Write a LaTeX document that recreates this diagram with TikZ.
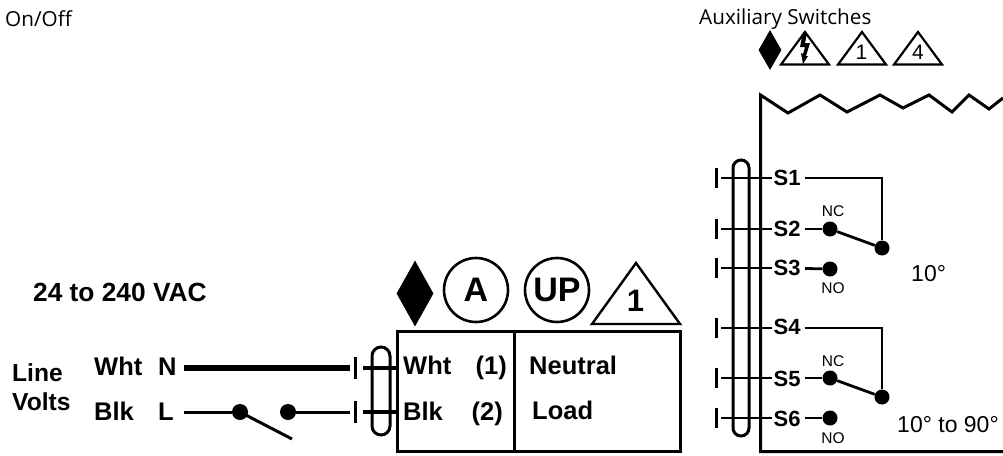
\documentclass[tikz,border=0pt]{standalone}
\usepackage{fontspec}
\setmainfont{Liberation Sans}
\newfontfamily\topfont{Open Sans}
\usetikzlibrary{positioning}
\usetikzlibrary{shapes.geometric}
\tikzset{
  wire/.style={line width=3pt},
  thinwire/.style={line width=2.8pt},
  lbl/.style={anchor=base west, inner sep=0pt, font=\bfseries\fontsize{25.5}{26}\selectfont},
  slbl/.style={anchor=base west, inner sep=0pt, font=\bfseries\fontsize{22}{22}\selectfont},
  deg/.style={anchor=base west, inner sep=0pt, font=\fontsize{23}{23}\selectfont},
  contact/.style={anchor=base, inner sep=0pt, font=\fontsize{15.5}{16}\selectfont},
  toplbl/.style={anchor=base west, inner sep=0pt, font=\topfont\fontsize{20.7}{21}\selectfont},
  dot/.style={circle, fill=black, inner sep=0pt, minimum size=15pt},
  badge/.style={circle, draw, line width=2.6pt, inner sep=0pt, minimum size=64pt, font=\bfseries\fontsize{34}{34}\selectfont},
  tri/.style={draw, line width=2.2pt, line join=miter},
  trinum/.style={inner sep=0pt, font=\fontsize{21}{21}\selectfont}
}
\begin{document}
\begin{tikzpicture}[x=1pt, y=-1pt]
        \useasboundingbox (0,0) rectangle (1003,455);

        % titles %
        \node[toplbl] (onoff) at (5,26) {On/Off};
        \node[toplbl] (aux) at (699,24) {Auxiliary Switches};

        % left labels %
        \node[lbl, font=\bfseries\fontsize{26.3}{27}\selectfont] (vac) at (33,301.5) {24 to 240 VAC};
        \node[lbl, font=\bfseries\fontsize{24.6}{25}\selectfont] (line) at (12,381.5) {Line};
        \node[lbl, font=\bfseries\fontsize{24.6}{25}\selectfont] (volts) at (12,410.5) {Volts};
        \node[lbl] (wht) at (94,375) {Wht};
        \node[lbl] (n) at (158,375) {N};
        \node[lbl] (blk) at (94,420) {Blk};
        \node[lbl] (l) at (158,420) {L};

        % actuator box %
        \draw[wire] (397.5,331.5) rectangle (680.5,451.5);
        \coordinate (boxtop) at (514,331.5);
        \coordinate (boxbot) at (514,451.5);
        \draw[wire] (boxtop) -- (boxbot);
        \node[lbl] (wht2) at (403,374) {Wht};
        \node[lbl] (one) at (475.5,374) {(1)};
        \node[lbl] (blk2) at (403,420) {Blk};
        \node[lbl] (two) at (471.5,420) {(2)};
        \node[lbl] (neutral) at (529,374) {Neutral};
        \node[lbl] (load) at (532,419) {Load};

        % symbols over the box %
        \node[diamond, fill=black, inner sep=0pt, minimum width=37pt, minimum height=66pt, aspect=0.56] (dia) at (415,293.5) {};
        \node[badge] (a) at (476,290) {A};
        \node[badge] (up) at (557,290) {UP};
        \draw[tri, line width=2.4pt] (636,263) -- (680,324) -- (592,324) -- cycle;
        \node[inner sep=0pt, font=\bfseries\fontsize{31}{31}\selectfont] (tone) at (635.5,301) {1};

        % symbols over the switches %
        \node[diamond, fill=black, inner sep=0pt, minimum width=23pt, minimum height=40pt, aspect=0.56] (dia2) at (770,50) {};
        \draw[tri] (805,32) -- (829,64.5) -- (781,64.5) -- cycle;
        \fill (803,32) -- (807,33) -- (805,43) -- (810,43) -- (806,56) -- (808,56) -- (803,64) -- (801,53) -- (803,54) -- (805,47) -- (800,47) -- cycle;
        \draw[tri] (862,32) -- (886,64.5) -- (838,64.5) -- cycle;
        \node[trinum] (none) at (861.5,52) {1};
        \draw[tri] (918,32) -- (942,64.5) -- (894,64.5) -- cycle;
        \node[trinum] (nfour) at (918,52) {4};

        % line volts wires %
        \coordinate (nend) at (350,368);
        \coordinate (nstart) at (184,368);
        \draw[line width=6pt] (nstart) -- (nend);
        \coordinate (lstart) at (184,412);
        \coordinate (lend) at (350,412);
        \node[dot, minimum size=16pt] (sw1) at (240,412) {};
        \node[dot, minimum size=16pt] (sw2) at (288,412) {};
        \coordinate (swarm) at (292,439);
        \draw[wire] (lstart) -- (sw1);
        \draw[wire] (sw1.center) -- (swarm);
        \draw[wire] (sw2) -- (lend);

        % left terminal block %
        \foreach \i/\yy in {1/368,2/412}{
          \coordinate (tka\i) at (355,\yy-11);
          \coordinate (tkb\i) at (355,\yy+11);
          \coordinate (pa\i) at (363,\yy);
          \coordinate (pb\i) at (397,\yy);
          \draw[wire] (tka\i) -- (tkb\i);
          \draw[line width=4pt] (pa\i) -- (pb\i);
        }
        \draw[wire, rounded corners=9pt] (372,347) rectangle (390,435);

        % right case %
        \draw[wire, line join=miter] (1003,98) -- (989,109) -- (969,95) -- (952,112) -- (929,95) -- (903,108) -- (880,95) -- (847,112) -- (820,95) -- (788,113) -- (760.5,95) -- (760.5,451.5) -- (1003,451.5);

        % terminals %
        \foreach \n/\yy/\base in {1/178/185,2/229/236,3/268/275,4/328/334.5,5/378/386,6/418/426}{
          \node[slbl] (s\n) at (773.5,\base) {S\n};
          \coordinate (ta\n) at (716,\yy-10);
          \coordinate (tb\n) at (716,\yy+10);
          \coordinate (tc\n) at (721,\yy);
          \coordinate (td\n) at (772,\yy);
          \draw[wire] (ta\n) -- (tb\n);
          \draw[thinwire] (tc\n) -- (td\n);
        }
        \draw[wire, rounded corners=8pt] (733,160) rectangle (749,436);

        % switch contacts %
        \node[dot] (c2) at (830,229) {};
        \node[dot] (c3) at (830,269) {};
        \node[dot] (m1) at (882,248) {};
        \node[dot] (c5) at (830,378) {};
        \node[dot] (c6) at (830,418) {};
        \node[dot] (m2) at (882,397) {};
        \coordinate (k1) at (882,178);
        \coordinate (k2) at (882,328);
        \coordinate (e1) at (805,178);
        \coordinate (e2) at (805,229);
        \coordinate (e3) at (805,268.5);
        \coordinate (e4) at (805,328);
        \coordinate (e5) at (805,378);
        \coordinate (e6) at (805,418);
        \draw[thinwire] (e1) -- (k1) -- (m1);
        \draw[thinwire] (e4) -- (k2) -- (m2);
        \draw[thinwire] (e2) -- (c2);
        \draw[thinwire] (e3) -- (c3);
        \draw[thinwire] (e5) -- (c5);
        \draw[thinwire] (e6) -- (c6);
        \draw[thinwire] (c2) -- (m1);
        \draw[thinwire] (c5) -- (m2);

        % contact labels %
        \node[contact] (nc1) at (833,216) {NC};
        \node[contact] (no1) at (833,293) {NO};
        \node[contact] (nc2) at (833,366) {NC};
        \node[contact] (no2) at (833,443) {NO};
        \node[deg] (ten) at (911,281) {10°};
        \node[deg] (tenninety) at (897,432.5) {10° to 90°};
\end{tikzpicture}
\end{document}
